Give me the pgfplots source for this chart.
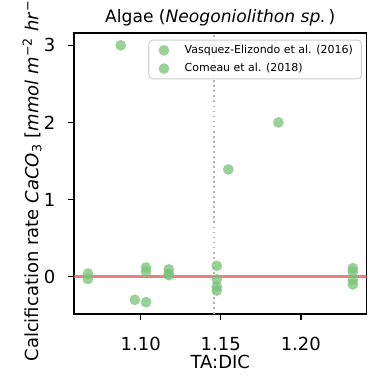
\documentclass[border=0pt]{standalone}
\usepackage{fontspec}
\setmainfont{DejaVu Sans}
\usepackage{pgfplots}
\pgfplotsset{compat=1.18}
\definecolor{ptgreen}{RGB}{119,195,119}
\definecolor{zeroline}{RGB}{230,95,95}
\pgfplotsset{ptstyle/.style={only marks, mark=*, mark size=3pt, color=ptgreen,
  mark options={draw=ptgreen, fill=ptgreen, fill opacity=0.75, draw opacity=0, line width=0pt}}}
\begin{document}
\begin{tikzpicture}
\begin{axis}[
  scale only axis, width=162.5pt, height=156.1pt,
  xmin=1.0583, xmax=1.2411, ymin=-0.484, ymax=3.16,
  xtick={1.10,1.15,1.20}, xticklabels={1.10,1.15,1.20},
  ytick={0,1,2,3},
  tick align=outside, tick pos=left, major tick length=3.5pt,
  every tick/.style={black, line width=0.8pt},
  axis line style={line width=0.8pt},
  /pgf/number format/assume math mode=true,
  tick label style={font=\fontsize{10}{12}\selectfont},
  xticklabel style={anchor=base, inner sep=0pt, yshift=-16.7pt},
  yticklabel style={anchor=east, inner sep=0pt, xshift=-6.7pt},
  title={Algae (\textit{Neogoniolithon sp.}\,)},
  title style={at={(axis description cs:0.5,1)}, anchor=base, yshift=-0.1pt, font=\fontsize{9.5}{11}\selectfont},
  xlabel={TA:DIC},
  xlabel style={at={(axis description cs:0.5,0)}, anchor=base, yshift=-30.2pt, font=\fontsize{10}{12}\selectfont},
  ylabel={Calcification rate \textit{CaCO}\textsubscript{3} [\textit{mmol m}\textsuperscript{−2} \textit{hr}\textsuperscript{−1}]},
  ylabel style={at={([xshift=-23.3pt]axis description cs:0,0.5)}, anchor=center, font=\fontsize{10}{12}\selectfont},
  legend style={at={(0.9836,0.976)}, anchor=north east, draw=black!20, rounded corners=2pt,
    fill=white, fill opacity=0.8, text opacity=1, font=\fontsize{6.1}{7}\selectfont,
    inner xsep=4.7pt, inner ysep=2.6pt, row sep=4.0pt, nodes={inner sep=0pt},
    /tikz/every odd column/.append style={column sep=8.5pt}, line width=0.5pt},
  legend cell align=left,
  legend image code/.code={\path (-3.4pt,0pt); \draw[#1] plot coordinates {(0pt,0pt)};},
]
\coordinate (bl) at (rel axis cs:0,0);
\coordinate (tr) at (rel axis cs:1,1);
\addplot[ptstyle] coordinates {
  (1.0670,0.04) (1.0670,-0.03) (1.0875,3.00) (1.0963,-0.30) (1.1033,-0.33)
  (1.1033,0.12) (1.1033,0.065) (1.1175,0.095) (1.1175,0.04) (1.1175,0.02)
};
\addlegendentry{Vasquez-Elizondo et al. (2016)}
\addplot[ptstyle] coordinates {
  (1.1475,0.14) (1.1475,-0.035) (1.1475,-0.13) (1.1475,-0.18) (1.1547,1.39)
  (1.1860,2.00) (1.2325,0.11) (1.2325,0.065) (1.2325,-0.045) (1.2325,-0.10)
};
\addlegendentry{Comeau et al. (2018)}
\addplot[zeroline, opacity=0.8, line width=1.8pt, forget plot] coordinates {(1.0583,0) (1.2411,0)};
\addplot[black!30, line width=0.9pt, dash pattern=on 1pt off 1.8pt, forget plot] coordinates {(1.1458,-0.484) (1.1458,3.16)};
\end{axis}
\pgfresetboundingbox
\path[use as bounding box] ([xshift=-41.1pt,yshift=-37.2pt]bl) rectangle ([xshift=4.7pt,yshift=18.3pt]tr);
\end{tikzpicture}
\end{document}
